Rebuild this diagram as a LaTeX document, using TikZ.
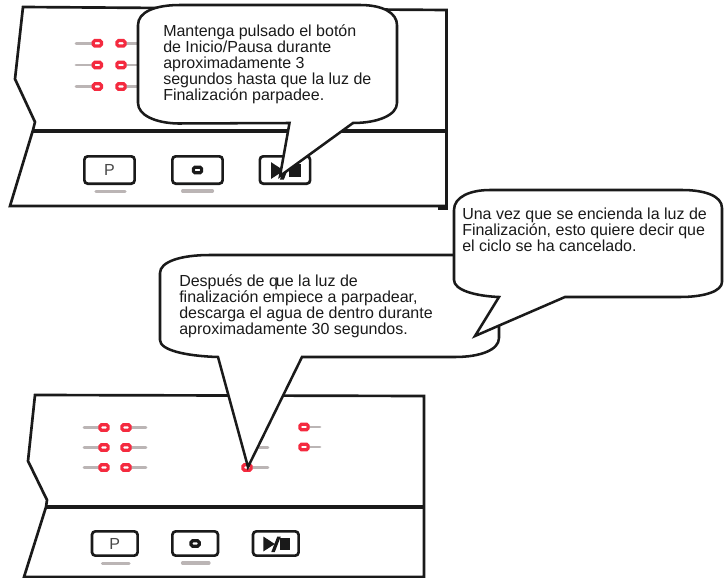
\documentclass[tikz,border=0pt]{standalone}
\usepackage{fontspec}
\setmainfont{Liberation Sans}
\definecolor{LedRed}{HTML}{F42A3F}
\definecolor{BarGray}{HTML}{BBB5B5}
\definecolor{PanelBlack}{HTML}{1A1A1A}
\usetikzlibrary{positioning}

\begin{document}
\begin{tikzpicture}[x=0.75pt, y=-0.75pt,
      panel/.style={draw=PanelBlack, line width=2pt, line join=miter},
      divider/.style={draw=PanelBlack, line width=3pt},
      led/.style={draw=LedRed, fill=white, line width=2.4pt, rounded corners=1.2pt,
                  minimum width=6.2pt, minimum height=4.1pt, inner sep=0pt},
      ledbtn/.style={led, draw=PanelBlack},
      ledbar/.style={BarGray, line width=2.2pt, line cap=round},
      btnbar/.style={BarGray, line width=2.4pt, line cap=round},
      btn/.style={draw=PanelBlack, fill=white, line width=2pt, rounded corners=2.5pt,
                  inner sep=0pt, font=\fontsize{12}{12}\selectfont, text=PanelBlack!80},
      bubble/.style={draw=PanelBlack, fill=white, line width=1.9pt, line join=miter},
      saytext/.style={anchor=north west, inner sep=0pt, align=left, text=PanelBlack,
                      font=\fontsize{12}{12}\selectfont}]

      \useasboundingbox (0,0) rectangle (726,578);

      % upper panel
      \draw[panel] (23,7) -- (446.5,10) -- (446.5,206) -- (10,206) -- (33,130)
                   -- (35,122) -- (15,79) -- cycle;
      \draw[divider] (33,130.5) -- (446.5,130.5);
      \draw[panel] (438,208.5) -- (447.5,208.5);

      \foreach \y/\n in {43.3/a, 65/b, 86.5/c} {
        \draw[ledbar] (76,\y) -- (97,\y);
        \draw[ledbar] (121,\y) -- (139,\y);
        \node[led] (upl\n) at (97.3,\y) {};
        \node[led] (upr\n) at (121,\y) {};
      }

      \node[btn, minimum width=37.7pt, minimum height=20.5pt] (upp)   at (109.5,170) {P};
      \node[btn, minimum width=37.7pt, minimum height=20.5pt] (upo)   at (197.5,170) {};
      \node[btn, minimum width=37.7pt, minimum height=20.5pt] (upgo)  at (285,170) {};
      \node[ledbtn] (upoled) at (197.5,170) {};
      \draw[btnbar] (96,191.5) -- (125,191.5);
      \draw[btnbar] (182.6,191) -- (212.5,191);

      % lower panel
      \draw[panel] (35,395) -- (424,396) -- (424,577) -- (24,577) -- (46,507)
                   -- (47,500) -- (28,461) -- cycle;
      \draw[divider] (46,507) -- (424,507);

      \foreach \y/\n in {427.5/a, 447.5/b, 467.5/c} {
        \draw[ledbar] (84,\y) -- (104,\y);
        \draw[ledbar] (126,\y) -- (146,\y);
        \node[led] (lol\n) at (104,\y) {};
        \node[led] (lor\n) at (126,\y) {};
      }
      \draw[ledbar] (256,447.5) -- (268,447.5);
      \draw[ledbar] (247,467.5) -- (268,467.5);
      \node[led] (lomid) at (247,467.5) {};
      \foreach \y/\n in {427/a, 447/b} {
        \draw[ledbar] (304,\y) -- (320,\y);
        \node[led] (lofar\n) at (304,\y) {};
      }

      \node[btn, minimum width=34.2pt, minimum height=18.2pt] (lop)  at (114.8,543.5) {P};
      \node[btn, minimum width=34.2pt, minimum height=18.2pt] (loo)  at (195.2,543.5) {};
      \node[btn, minimum width=34.2pt, minimum height=18.2pt] (logo) at (275.8,543.5) {};
      \node[ledbtn] (looled) at (195.2,543.5) {};
      \draw[btnbar] (102.5,563.5) -- (129,563.5);
      \draw[btnbar] (182.5,563) -- (209,563);

      % play/stop marks
      \foreach \c/\s in {upgo/1.12, logo/1} {
        \begin{scope}[shift={(\c.center)}, scale=\s]
          \fill[PanelBlack] (-12.5,-7) -- (-12.5,8) -- (-1,0.5) -- cycle;
          \fill[PanelBlack] (-4.5,8.5) -- (-1,8.5) -- (5,-7) -- (1.5,-7) -- cycle;
          \fill[PanelBlack] (4,-5.5) rectangle (14,6.5);
        \end{scope}
      }

      % speech bubbles
      \draw[bubble] (138,25) .. controls (138,12) and (155,5) .. (180,5)
            -- (360,5) .. controls (383,5) and (397,13) .. (397,25)
            -- (397,103) .. controls (397,115) and (378,123) .. (353,123)
            -- (280,176) -- (289.5,123) -- (178,123.5)
            .. controls (155,123) and (138,115) .. (138,103) -- cycle;
      \node[saytext] (saya) at (163,24) {Mantenga pulsado el botón\\de Inicio/Pausa durante\\
            aproximadamente 3\\segundos hasta que la luz de\\Finalización parpadee.};

      \draw[bubble] (160,273) .. controls (160,262) and (180,255) .. (210,255)
            -- (499,255) -- (499,338)
            .. controls (499,350) and (480,357) .. (455,357)
            -- (302,357) -- (248,467) -- (218,357)
            .. controls (185,356) and (160,350) .. (160,340) -- cycle;
      \node[saytext] (sayb) at (179,274) {Después de q\kern-1.5pt ue la luz de\\finalización empiece a parpadear,\\
            descarga el agua de dentro durante\\aproximadamente 30 segundos.};

      \draw[bubble] (454,210) .. controls (454,197) and (470,190) .. (490,190)
            -- (682,190) .. controls (705,190) and (722,196) .. (722,208)
            -- (722,282) .. controls (722,291) and (705,297) .. (680,297)
            -- (565,297) -- (475,336) -- (499,297)
            .. controls (475,296) and (454,290) .. (454,280) -- cycle;
      \node[saytext] (sayc) at (462,208) {Una vez que se encienda la luz de\\
            Finalización, esto quiere decir que\\el ciclo se ha cancelado.};
    \end{tikzpicture}
\end{document}
